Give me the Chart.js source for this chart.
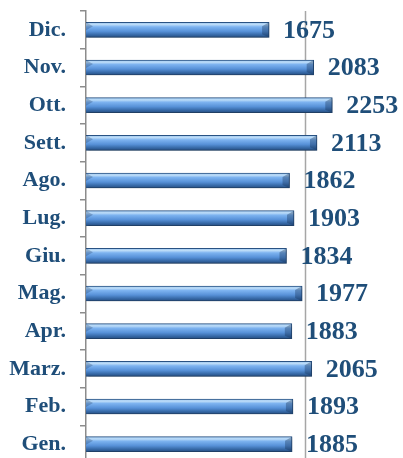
<!DOCTYPE html>
<html>
<head>
<meta charset="utf-8">
<script src="https://cdn.jsdelivr.net/npm/chart.js@4"></script>
<style>
  html, body { margin: 0; padding: 0; background: #fff; overflow: hidden; }
</style>
</head>
<body>
<canvas id="chart" width="403" height="464"></canvas>
<script>
// Dati
const mesi = ['Dic.', 'Nov.', 'Ott.', 'Sett.', 'Ago.', 'Lug.', 'Giu.', 'Mag.', 'Apr.', 'Marz.', 'Feb.', 'Gen.'];
const valori = [1675, 2083, 2253, 2113, 1862, 1903, 1834, 1977, 1883, 2065, 1893, 1885];
const lineaGriglia = 2000;

const blu = '#1f4e79';

// gradiente verticale per ogni barra
function barGradient(context) {
  const chart = context.chart;
  const scala = chart.scales.y;
  if (!scala || context.dataIndex === undefined) return '#4d88cf';
  const y = scala.getPixelForValue(context.dataIndex);
  if (!isFinite(y)) return '#4d88cf';
  const g = chart.ctx.createLinearGradient(0, y - 7.5, 0, y + 7.5);
  g.addColorStop(0, '#9cc6ef');
  g.addColorStop(0.15, '#bcdcf8');
  g.addColorStop(0.3, '#7db3f0');
  g.addColorStop(0.6, '#5791d8');
  g.addColorStop(0.85, '#3466a3');
  g.addColorStop(1, '#284f82');
  return g;
}

// griglia a 2000, ombra, smussi, etichette
const decorazioni = {
  id: 'decorazioni',
  beforeDatasetsDraw(chart) {
    const ctx = chart.ctx;
    const x = Math.round(chart.scales.x.getPixelForValue(lineaGriglia)) + 0.5;
    ctx.save();
    ctx.strokeStyle = '#a6a6a6';
    ctx.lineWidth = 1.5;
    ctx.beginPath();
    ctx.moveTo(x, chart.chartArea.top);
    ctx.lineTo(x, chart.height);
    ctx.stroke();
    ctx.restore();

    ctx.save();
    ctx.shadowColor = 'rgba(0,0,0,0.3)';
    ctx.shadowBlur = 3;
    ctx.shadowOffsetX = 1;
    ctx.shadowOffsetY = 2;
  },
  afterDatasetsDraw(chart) {
    const ctx = chart.ctx;
    ctx.restore();
    const meta = chart.getDatasetMeta(0);
    ctx.save();
    meta.data.forEach((bar, i) => {
      const h = 15;
      const top = bar.y - h / 2;
      // smusso a destra
      ctx.fillStyle = 'rgba(20,45,80,0.35)';
      ctx.beginPath();
      ctx.moveTo(bar.x, top);
      ctx.lineTo(bar.x - 7, top + 4);
      ctx.lineTo(bar.x - 7, top + h - 3);
      ctx.lineTo(bar.x, top + h);
      ctx.closePath();
      ctx.fill();
      // smusso a sinistra
      ctx.fillStyle = 'rgba(20,45,80,0.25)';
      ctx.beginPath();
      ctx.moveTo(bar.base, top);
      ctx.lineTo(bar.base + 7, top + 4);
      ctx.lineTo(bar.base, top + 8);
      ctx.closePath();
      ctx.fill();
      // etichetta valore
      ctx.fillStyle = blu;
      ctx.font = 'bold 26px "Liberation Serif", serif';
      ctx.textAlign = 'left';
      ctx.textBaseline = 'middle';
      ctx.fillText(valori[i], bar.x + 14, bar.y + 1);
    });
    ctx.restore();
  }
};

const grafico = new Chart(document.getElementById('chart'), {
  type: 'bar',
  data: {
    labels: mesi,
    datasets: [{
      data: valori,
      backgroundColor: barGradient,
      borderColor: '#2a5385',
      borderWidth: 1,
      borderSkipped: 'left',
      barThickness: 15
    }]
  },
  options: {
    indexAxis: 'y',
    responsive: false,
    animation: false,
    layout: { padding: { top: 11, right: 0, bottom: 1, left: 0 } },
    plugins: {
      legend: { display: false },
      tooltip: { enabled: false }
    },
    scales: {
      x: {
        display: false,
        min: 0,
        max: 2900
      },
      y: {
        afterFit(scale) {
          scale.width = 86;
          scale.paddingTop = 0;
          scale.paddingBottom = 0;
        },
        border: { display: true, color: '#8c8c8c', width: 1.5 },
        grid: {
          drawOnChartArea: false,
          tickLength: 6,
          color: '#8c8c8c',
          lineWidth: 1.5
        },
        ticks: {
          color: blu,
          padding: 14,
          font: { family: '"Liberation Serif", serif', size: 22, weight: 'bold' }
        }
      }
    }
  },
  plugins: [decorazioni]
});
grafico.update();
</script>
</body>
</html>
